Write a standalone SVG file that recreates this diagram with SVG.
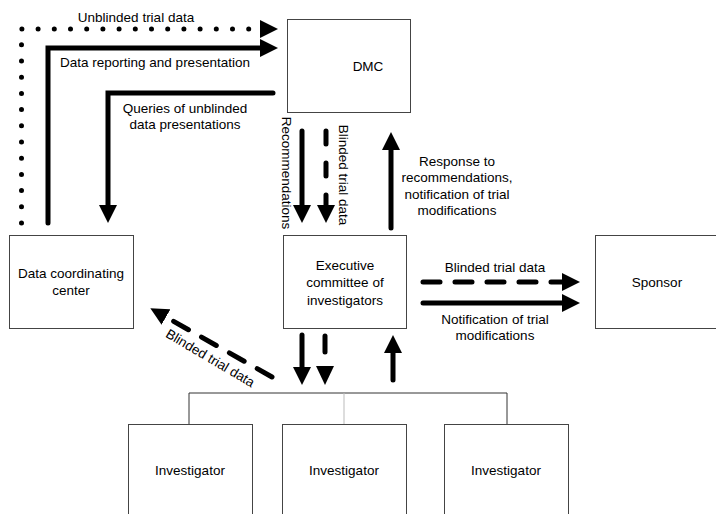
<svg xmlns="http://www.w3.org/2000/svg" width="716" height="514" viewBox="0 0 716 514">
<style>
.box{fill:#fff;stroke:#444;stroke-width:1}
.t{font-family:"Liberation Sans",Arial,sans-serif;font-size:13.5px;fill:#000;text-anchor:middle}
.a{fill:none;stroke:#000;stroke-width:5;stroke-linecap:round;stroke-linejoin:miter}
.dot{stroke-dasharray:0 16.2}
.dash{stroke-dasharray:17 15}
.tree{fill:none;stroke:#333;stroke-width:1}
</style>
<defs>
<marker id="ah" viewBox="0 0 10 10" refX="0" refY="5" markerUnits="userSpaceOnUse" markerWidth="18" markerHeight="18" orient="auto">
<path d="M0,0 L10,5 L0,10 z" fill="#000"/>
</marker>
</defs>
<rect width="716" height="514" fill="#fff"/>
<g id="connectors">
<path class="a dot" d="M21.5,223 L21.5,29 L254,29"/>
<path d="M260,20 L278,29 L260,38 z" fill="#000"/>
<path class="a" d="M48,223 L48,48 L260,48" marker-end="url(#ah)"/>
<path class="a" d="M273,93 L108,93 L108,205" marker-end="url(#ah)"/>
<path class="a" d="M302,131 L302,205" marker-end="url(#ah)"/>
<path class="a" d="M326,131 L326,205" style="stroke-dasharray:13 19" marker-end="url(#ah)"/>
<path class="a" d="M391,228 L391,150" marker-end="url(#ah)"/>
<path class="a" d="M302,335 L302,367" marker-end="url(#ah)"/>
<path class="a" d="M325,336 L325,352"/>
<path d="M316,366 L334,366 L325,385 z" fill="#000"/>
<path class="a" d="M393,380 L393,353" marker-end="url(#ah)"/>
<path class="a dash" d="M423,282 L562,282" marker-end="url(#ah)"/>
<path class="a" d="M423,303 L562,303" marker-end="url(#ah)"/>
<path class="a" d="M272,377 L166,317" style="stroke-dasharray:17 15" marker-end="url(#ah)"/>
<path class="tree" d="M189,424 L189,393 L507,393 L507,424"/>
<path d="M344,393 L344,424" fill="none" stroke="#bbb" stroke-width="1"/>
<text class="t" x="136" y="22">Unblinded trial data</text>
<text class="t" x="155" y="67">Data reporting and presentation</text>
<text class="t" x="185" y="113">Queries of unblinded</text>
<text class="t" x="185" y="129">data presentations</text>
<text class="t" transform="translate(282,173) rotate(90)">Recommendations</text>
<text class="t" transform="translate(339,175) rotate(90)">Blinded trial data</text>
<text class="t" x="457" y="166">Response to</text>
<text class="t" x="457" y="182">recommendations,</text>
<text class="t" x="457" y="199">notification of trial</text>
<text class="t" x="457" y="215">modifications</text>
<text class="t" x="495" y="272">Blinded trial data</text>
<text class="t" x="495" y="324">Notification of trial</text>
<text class="t" x="495" y="340">modifications</text>
<text class="t" transform="translate(208,362) rotate(30.5)">Blinded trial data</text>
</g>
<g id="dmc">
<rect class="box" x="287.5" y="19.5" width="123" height="93"/>
<text class="t" x="368" y="71">DMC</text>
</g>
<g id="dcc">
<rect class="box" x="9.5" y="235.5" width="124" height="93"/>
<text class="t" x="71" y="278">Data coordinating</text>
<text class="t" x="71" y="295">center</text>
</g>
<g id="exec">
<rect class="box" x="283.5" y="235.5" width="123" height="93"/>
<text class="t" x="345" y="270">Executive</text>
<text class="t" x="345" y="287">committee of</text>
<text class="t" x="345" y="305">investigators</text>
</g>
<g id="sponsor">
<rect class="box" x="595.5" y="235.5" width="124" height="93"/>
<text class="t" x="657" y="287">Sponsor</text>
</g>
<g id="inv1">
<rect class="box" x="128.5" y="424.5" width="124" height="100"/>
<text class="t" x="190" y="475">Investigator</text>
</g>
<g id="inv2">
<rect class="box" x="282.5" y="424.5" width="124" height="100"/>
<text class="t" x="344" y="475">Investigator</text>
</g>
<g id="inv3">
<rect class="box" x="444.5" y="424.5" width="124" height="100"/>
<text class="t" x="506" y="475">Investigator</text>
</g>
</svg>
